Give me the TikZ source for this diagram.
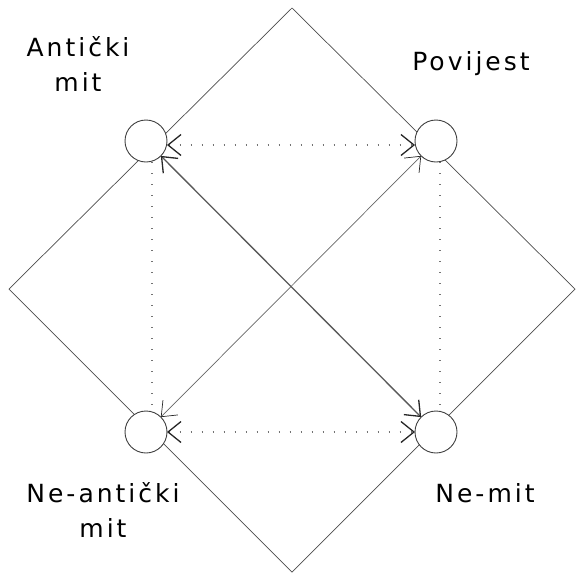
\documentclass[tikz,border=0pt]{standalone}
\usepackage{fontspec}
\newfontfamily\termfont[LetterSpace=12]{DejaVu Sans}
\usetikzlibrary{arrows.meta}

\begin{document}
\begin{tikzpicture}[
                        x = 1pt,
                        y = -1pt,
                        > = {Straight Barb[length=13pt,width=21pt,color=black!85]},
               rim/.style = {draw=black!70, line width=0.7pt},
              pole/.style = {circle,
                            draw=black!75,
                            line width=0.9pt,
                            fill=white,
                            minimum size=42pt,
                            inner sep=0pt,
                            outer sep=0pt},
              term/.style = {align=center, anchor=base,
                            font=\termfont\fontsize{25}{35}\selectfont},
             heavy/.style = {draw=black!65, line width=1.3pt},
             light/.style = {draw=black!60, line width=0.7pt},
            dotted/.style = {draw=black!55, line width=1.3pt,
                            dash pattern=on 1.2pt off 9.8pt},
            ]
            \useasboundingbox (0,0) rectangle (577,579);

            % outer square
            \draw[rim] (292,8) -- (575,289) -- (292,572) -- (9,289) -- cycle;

            \node[pole] (antic)   at (146,141) {};
            \node[pole] (history) at (436,141) {};
            \node[pole] (nonantic) at (146,432) {};
            \node[pole] (nonmyth) at (436,432) {};

            \draw[heavy, <->] (antic) -- (nonmyth);
            \draw[light, <->] (nonantic) -- (history);
            \draw[dotted, <->] ([yshift=-4pt]antic.east) -- ([yshift=-4pt]history.west);
            \draw[dotted, <->] (nonantic.east) -- (nonmyth.west);
            \draw[dotted] ([xshift=6pt]antic.south) -- ([xshift=6pt]nonantic.north);
            \draw[dotted] ([xshift=4pt]history.south) -- ([xshift=4pt]nonmyth.north);

            % base is the last line
            \node[term] at (78,91)  {Antički\\mit};
            \node[term] at (471,70) {Povijest};
            \node[term] at (103,537) {Ne-antički\\mit};
            \node[term] at (485,502) {Ne-mit};
        \end{tikzpicture}
\end{document}
